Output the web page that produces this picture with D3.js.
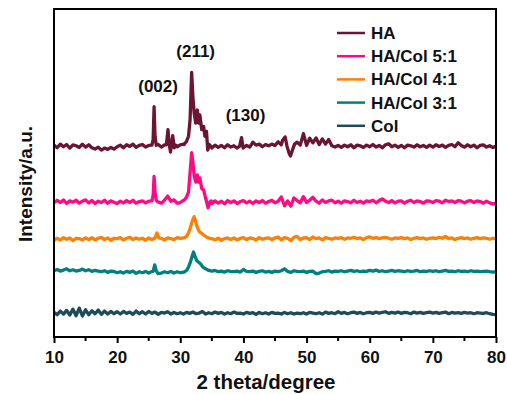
<!DOCTYPE html>
<html>
<head>
<meta charset="utf-8">
<script src="https://cdn.jsdelivr.net/npm/d3@7"></script>
<style>
  body { margin: 0; background: #fff; }
  svg { display: block; font-family: Arial, "Liberation Sans", sans-serif; font-weight: bold; }
</style>
</head>
<body>
<svg id="chart" width="507" height="394"></svg>
<script>
// 2theta grid of the scan (0.5 deg step)
const twoTheta = d3.range(0, 141).map(i => 10 + i * 0.5);

const seriesNames = ["HA", "HA/Col 5:1", "HA/Col 4:1", "HA/Col 3:1", "Col"];
const seriesColors = ["#6b1434", "#ff0a84", "#ff8000", "#008080", "#1f4a5b"];
const offsets = [58.2, 41.2, 29.9, 19.8, 7.3];

// background readings, relative to each trace's baseline (a.u.)
const haNoise = [
  0.3, -0.5, 0.6, -0.2, 0.5, -0.6, 0.4, 0.1, -0.4, 0.6,
  -0.3, 0.4, -0.5, -0.9, -0.3, -1.2, -0.6, -1.0, -0.4, -0.9,
  -0.2, 0.3, -0.5, 0.4, -0.1, 0.6, -0.4, 0.2, 0.5, -0.3,
  0.2, 0.3, 3, 0.5, -0.3, 0.4, 4, -1, 0.5, -0.2,
  0.4, 0.6, 1.5, 7, 15, 8, 8, 5, 3.5, -0.5,
  -0.6, 0.3, -0.4, 0.2, -0.5, 0.4, -0.3, 0.1, -0.6, 0.4,
  -0.5, 0.2, -0.3, 1.2, 0.3, 0.6, -0.2, 0.5, 0.1, 0.6,
  0.2, 1.3, 0.4, 2.6, -1.5, -3, -0.5, 1.2, 0.3, 3.8,
  0.2, 2.4, 1.0, 2.5, 0.5, 2.2, 0.6, 2, 0.1, -0.3,
  0.2, -0.4, 0.3, -0.2, 0.4, -0.5, 0.3, 0.1, -0.4, 0.3,
  -0.2, 0.5, -0.3, 0.2, -0.5, 0.4, 0.7, -0.2, 0.3, -0.4,
  0.2, -0.5, 0.3, 0.1, -0.3, 0.4, -0.2, 0.2, -0.4, 0.3,
  -0.3, 0.4, -0.1, 0.3, -0.4, 0.2, 0.5, -0.2, 1.0, 0.2,
  -0.3, 0.4, -0.2, 0.3, -0.5, 0.2, 0.4, -0.3, 0.1, -0.4,
  0.0
];
const pinkNoise = [
  -0.3, 0.5, -0.2, 0.6, -0.5, 0.3, -0.1, 0.5, -0.4, 0.2,
  0.6, -0.3, 0.4, -0.5, 0.2, -0.2, 0.5, -0.4, 0.3, -0.1,
  -0.5, 0.2, -0.3, 0.4, -0.2, 0.5, -0.4, 0.1, 0.3, -0.3,
  0.2, 0.3, 3, 0, -0.4, 0.5, 1.8, 0.2, 0.6, -0.4,
  -0.2, 0.5, 1.5, 8, 12, 7, 6.5, 3.5, 1, -1.6,
  -0.5, 0.3, -0.4, 0.2, -0.6, 0.4, -0.2, 0.3, -0.5, 0.1,
  0.4, -0.3, 0.2, -0.5, 0.3, -0.2, 0.4, -0.4, 0.1, 0.5,
  -0.3, 0.2, 1.5, -1.2, 0.3, -1.3, 1.2, 0.4, -0.3, 1.6,
  -0.2, 0.5, 1.4, 0.2, -0.4, 0.6, -0.2, 0.3, 0.5, -0.3,
  0.2, -0.4, 0.3, 0.1, -0.3, 0.5, -0.2, 0.2, -0.4, 0.3,
  0.1, 0.5, -0.3, 0.4, 0.9, 0.2, -0.2, 0.4, -0.3, 0.2,
  0.3, -0.4, 0.2, 0.5, -0.2, 0.3, 0.1, -0.4, 0.3, 0.2,
  -0.2, 0.4, 0.2, -0.3, 0.5, 0.1, 0.3, -0.2, 0.4, 0.2,
  -0.3, 0.2, 0.4, -0.2, 0.3, 0.1, -0.4, 0.2, -0.3, -0.6,
  -0.5
];
const orangeNoise = [
  -0.4, 0.2, -0.3, 0.4, -0.1, 0.3, -0.5, 0.2, 0.1, -0.3,
  0.3, -0.2, 0.4, -0.3, 0.2, 0.5, -0.2, 0.3, -0.4, 0.2,
  0.1, 0.4, -0.3, 0.2, 0.5, -0.2, 0.3, -0.1, 0.2, -0.4,
  0.3, -0.2, 0.4, 1.2, 0.2, -0.3, 0.3, 0.1, -0.2, 0.4,
  0.2, 0.3, 0.8, 3, 6, 4.5, 2.3, 1.8, 0.8, 0.4,
  0.1, -0.3, 0.2, -0.4, 0.1, 0.3, -0.2, 0.3, -0.3, 0.2,
  0.4, -0.2, 0.3, 0.1, -0.3, 0.4, -0.1, 0.2, 0.3, -0.2,
  0.3, 0.6, -0.3, 0.4, 0.2, -0.5, 0.5, 0.8, -0.2, 0.3,
  0.4, -0.2, 0.6, 0.1, 0.3, -0.3, 0.4, 0.2, -0.1, 0.3,
  0.2, 0.4, -0.1, 0.3, 0.2, 0.5, 0.1, 0.3, -0.2, 0.4,
  0.6, 0.2, 0.4, 0.1, 0.3, 0.5, 0.2, -0.1, 0.3, 0.2,
  0.4, 0.1, 0.3, -0.2, 0.2, 0.4, 0.1, 0.3, -0.1, 0.2,
  0.3, 0.1, 0.5, 0.2, 0.8, 0.1, 0.3, -0.2, 0.2, 0.4,
  0.1, 0.3, -0.1, 0.2, 0.4, 0.1, 0.3, 0.2, -0.1, 0.2,
  0.1
];
const tealNoise = [
  0.4, 0.8, 0.3, 0.6, 1.0, 0.4, 0.7, 0.3, 0.5, 0.9,
  0.4, 0.7, 0.2, 0.5, 0.3, 0.1, 0.4, -0.1, 0.3, 0.2,
  -0.2, 0.1, -0.3, 0.2, -0.1, 0.3, -0.4, 0.1, -0.2, 0.2,
  -0.3, 0.2, 2, -0.5, -0.3, 0.1, -0.2, 0.2, -0.3, 0.1,
  -0.2, 0.0, 0.5, 2.5, 5.5, 4, 3, 2, 1, 0.6,
  0.3, 0.5, 0.1, 0.3, 0.0, 0.4, 0.2, 0.1, 0.3, 0.0,
  0.8, 0.2, 0.1, 0.3, -0.1, 0.2, 0.4, 0.0, 0.2, -0.1,
  0.3, 0.1, 0.4, 1.0, 0.2, -0.1, 0.4, 0.2, 0.1, 0.3,
  -0.1, 0.2, 0.3, -0.5, -0.3, 0.1, 0.2, 0.4, 0.0, 0.3,
  0.2, 0.4, 0.1, 0.3, 0.5, 0.2, 0.4, 0.1, 0.3, 0.2,
  0.5, 0.3, 0.6, 0.2, 0.4, 0.1, 0.3, 0.5, 0.2, 0.4,
  0.3, 0.1, 0.4, 0.2, 0.3, 0.5, 0.1, 0.3, 0.2, 0.4,
  0.2, 0.4, 0.1, 0.3, 0.5, 0.2, 0.3, 0.1, 0.4, 0.2,
  0.3, 0.1, 0.4, 0.2, 0.3, 0.1, 0.2, 0.3, 0.1, 0.0,
  0.1
];
const colNoise = [
  0.2, -0.5, 0.6, -0.3, 0.8, -0.6, 1.2, -0.8, 1.5, -0.9,
  1.0, -0.5, 0.7, -0.2, 0.9, -0.4, 0.6, -0.3, 0.5, -0.2,
  0.4, -0.3, 0.5, -0.1, 0.3, -0.4, 0.6, -0.2, 0.4, -0.3,
  0.5, -0.1, 0.3, -0.4, 0.2, 0.0, 0.4, -0.3, 0.2, -0.2,
  0.1, -0.3, 0.2, -0.1, 0.3, -0.2, 0.0, 0.5, -0.3, 0.1,
  -0.2, 0.3, -0.1, 0.2, -0.3, 0.1, -0.2, 0.3, -0.1, 0.0,
  -0.3, 0.2, -0.1, 0.1, -0.4, 0.2, -0.2, 0.1, -0.3, 0.2,
  -0.1, 0.0, -0.3, 0.2, -0.2, 0.1, -0.3, 0.0, -0.2, 0.1,
  -0.3, 0.2, 0.0, -0.2, 0.1, -0.3, 0.3, -0.1, 0.1, -0.2,
  0.4, -0.1, 0.2, -0.2, 0.1, 0.3, -0.1, 0.2, -0.2, 0.1,
  0.2, -0.1, 0.3, 0.0, 0.2, 0.4, -0.1, 0.2, 0.0, 0.3,
  -0.1, 0.2, 0.1, -0.2, 0.3, 0.0, 0.2, -0.1, 0.1, 0.3,
  0.0, 0.2, -0.1, 0.1, 0.3, -0.2, 0.2, 0.0, 0.1, -0.1,
  0.2, 0.0, 0.1, -0.2, 0.1, 0.0, -0.1, 0.1, -0.2, -0.4,
  -0.5
];

// finer readings across the reflections: [2theta, intensity above baseline]
const haPeaks = [
  [[25.5, 0.3], [25.7, 2], [25.85, 12], [26.0, 3], [26.2, 0.2], [26.4, 0.6]],
  [[27.8, 0.4], [28.05, 5], [28.25, 0.5], [28.45, -1.8], [28.8, 3.2], [29.05, -0.5], [29.3, 0.3]],
  [[30.6, 0.5], [31.0, 1.5], [31.3, 3], [31.55, 8], [31.8, 22.5], [32.0, 15], [32.2, 10], [32.45, 7],
   [32.7, 11], [32.9, 7], [33.1, 9.5], [33.4, 5], [33.7, 6], [33.9, 3], [34.15, 4.5], [34.35, -1.2],
   [34.6, 0.5], [34.9, -0.2]],
  [[39.4, 0], [39.7, 2.6], [39.95, -0.6]],
  [[46.2, 1.8], [46.6, 2.8], [46.9, 0], [47.2, -2], [47.45, -3], [47.8, -1], [48.1, 0.6]]
];
const pinkPeaks = [
  [[25.5, 0.3], [25.7, 2], [25.85, 7.8], [26.0, 3], [26.2, 0.5], [26.4, 0]],
  [[30.6, 0.5], [31.0, 1.5], [31.3, 3], [31.55, 9], [31.8, 15], [32.0, 12], [32.2, 8], [32.45, 6],
   [32.7, 8.2], [32.9, 6], [33.1, 7.3], [33.4, 4], [33.7, 3.7], [33.9, 2], [34.1, 0.5], [34.4, -1.8],
   [34.7, 0], [34.9, 0.3]]
];
const orangePeaks = [
  [[26.0, 0.3], [26.3, 1.8], [26.6, 0.3]],
  [[30.6, 0.3], [31.0, 0.8], [31.3, 1.8], [31.6, 3.5], [31.9, 5.5], [32.2, 6.8], [32.4, 5.5],
   [32.7, 3.5], [33.0, 2.3], [33.3, 1.8], [33.7, 1.2], [34.2, 0.5], [34.7, 0.2]]
];
const tealPeaks = [
  [[25.7, 0.2], [25.95, 2.2], [26.2, 0.3]],
  [[30.6, 0], [31.0, 0.5], [31.3, 1.5], [31.6, 3], [31.9, 5], [32.1, 6.1], [32.3, 5], [32.6, 3.5],
   [32.9, 3], [33.2, 2.5], [33.6, 1.5], [34.0, 1], [34.5, 0.5]]
];
const colPeaks = [];

const xTicks = [10, 20, 30, 40, 50, 60, 70, 80];
const xMinorTicks = [15, 25, 35, 45, 55, 65, 75];
// label positions in data units (2theta, a.u.)
const peakLabels = [
  { text: "(002)", x: 25.85, y: 74.7 },
  { text: "(211)", x: 31.8, y: 85.4 },
  { text: "(130)", x: 39.7, y: 65.9 }
];

const noiseList = [haNoise, pinkNoise, orangeNoise, tealNoise, colNoise];
const peakList = [haPeaks, pinkPeaks, orangePeaks, tealPeaks, colPeaks];

function buildSeries(noise, clusters, offset) {
  // drop grid readings that fall inside a finely read reflection, then merge
  const pts = twoTheta.map((t, i) => [t, noise[i]])
    .filter(([t]) => !clusters.some(c => t >= c[0][0] && t <= c[c.length - 1][0]));
  clusters.forEach(c => pts.push(...c));
  pts.sort((a, b) => a[0] - b[0]);
  return pts.map(([t, v]) => [t, v + offset]);
}

const svg = d3.select("#chart");
const plotLeft = 54, plotRight = 496, plotTop = 9, plotBottom = 337;

const x = d3.scaleLinear().domain([10, 80]).range([plotLeft, plotRight]);
const y = d3.scaleLinear().domain([0, 100]).range([plotBottom, plotTop]);

svg.append("clipPath").attr("id", "plot")
  .append("rect").attr("x", plotLeft).attr("y", plotTop)
  .attr("width", plotRight - plotLeft).attr("height", plotBottom - plotTop);

const line = d3.line().x(d => x(d[0])).y(d => y(d[1]));

const traces = svg.append("g").attr("clip-path", "url(#plot)");
seriesNames.forEach((name, i) => {
  traces.append("path")
    .datum(buildSeries(noiseList[i], peakList[i], offsets[i]))
    .attr("fill", "none")
    .attr("stroke", seriesColors[i])
    .attr("stroke-width", 3.3)
    .attr("stroke-linejoin", "round")
    .attr("d", line);
});

// x axis
const xAxis = svg.append("g").attr("transform", `translate(0,${plotBottom})`)
  .call(d3.axisBottom(x).tickValues(xTicks).tickSize(6).tickFormat(d3.format("d")));
xAxis.select(".domain").remove();
xAxis.selectAll(".tick line").attr("stroke", "#000").attr("stroke-width", 2);
xAxis.selectAll(".tick text").attr("font-size", 17).attr("font-weight", "bold")
  .attr("font-family", "Arial, 'Liberation Sans', sans-serif").attr("fill", "#111").attr("dy", "1.0em");
svg.append("g").selectAll("line").data(xMinorTicks).enter().append("line")
  .attr("x1", d => x(d)).attr("x2", d => x(d))
  .attr("y1", plotBottom).attr("y2", plotBottom + 4)
  .attr("stroke", "#000").attr("stroke-width", 2);

// frame
svg.append("rect")
  .attr("x", plotLeft).attr("y", plotTop)
  .attr("width", plotRight - plotLeft).attr("height", plotBottom - plotTop)
  .attr("fill", "none").attr("stroke", "#000").attr("stroke-width", 2);

// axis titles
svg.append("text").attr("x", (plotLeft + plotRight) / 2 - 9).attr("y", 389)
  .attr("text-anchor", "middle").attr("font-size", 20.5).attr("fill", "#111")
  .text("2 theta/degree");
svg.append("text").attr("transform", `translate(32,184) rotate(-90)`)
  .attr("text-anchor", "middle").attr("font-size", 19).attr("fill", "#111")
  .text("Intensity/a.u.");

// peak labels
svg.append("g").selectAll("text").data(peakLabels).enter().append("text")
  .attr("x", d => x(d.x) + 4).attr("y", d => y(d.y))
  .attr("text-anchor", "middle").attr("font-size", 17).attr("fill", "#111")
  .text(d => d.text);

// legend
const legend = svg.append("g").attr("transform", "translate(337,33)");
seriesNames.forEach((name, i) => {
  const row = legend.append("g").attr("transform", `translate(0,${i * 23.2})`);
  row.append("line").attr("x1", 0).attr("x2", 28).attr("y1", 0).attr("y2", 0)
    .attr("stroke", seriesColors[i]).attr("stroke-width", 2.5);
  row.append("text").attr("x", 34).attr("y", 6).attr("font-size", 17).attr("fill", "#111").text(name);
});
</script>
</body>
</html>
